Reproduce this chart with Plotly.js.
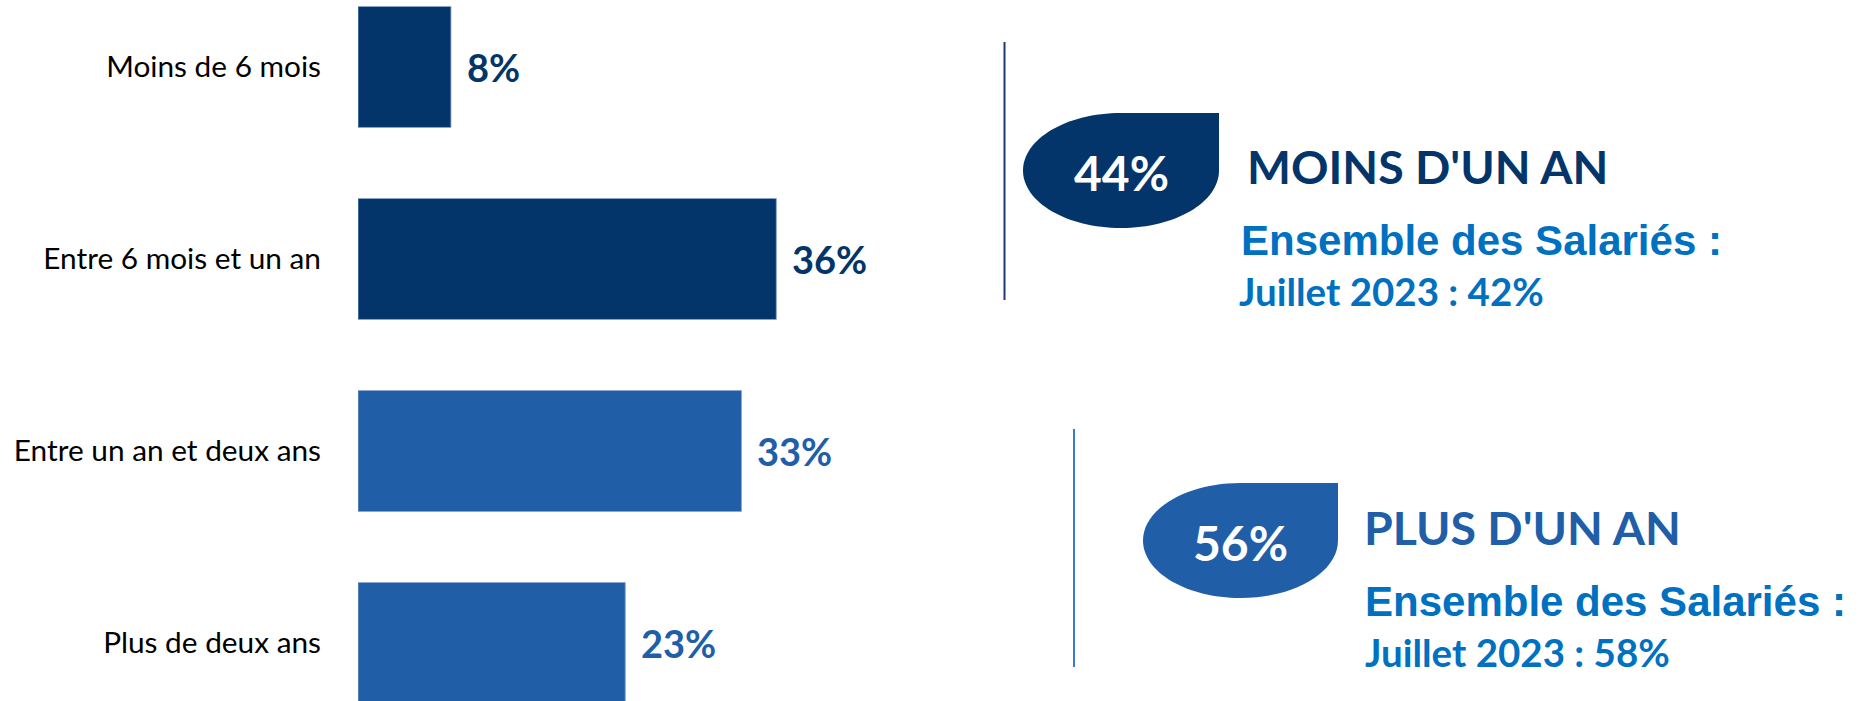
<!DOCTYPE html>
<html>
<head>
<meta charset="utf-8">
<script src="https://cdn.plot.ly/plotly-3.0.1.min.js"></script>
<style>
  html, body { margin: 0; padding: 0; background: #ffffff; }
  #chart { width: 1865px; height: 701px; }
</style>
</head>
<body>
<div id="chart"></div>
<script>
// ---- Data ----
const categories = ['Moins de 6 mois', 'Entre 6 mois et un an', 'Entre un an et deux ans', 'Plus de deux ans'];
const values = [8, 36, 33, 23];
const groupLabels = ["MOINS D'UN AN", "PLUS D'UN AN"];
const groupValues = [44, 56];
const refLabel = 'Ensemble des Salariés :';
const refPeriod = 'Juillet 2023';
const refValues = [42, 58];

// ---- Styles ----
const DARK = '#03356A';
const LIGHT = '#215EA8';
const REFBLUE = '#0070C0';
const barColors = [DARK, DARK, LIGHT, LIGHT];
const groupColors = [DARK, LIGHT];
const FONT = 'Lato, "Open Sans", sans-serif';

// ---- Layout geometry (pixels) ----
const W = 1865, H = 701;
const L = 358;                // plot area left edge
const PW = W - L;             // plot area width
const PX_PER_UNIT = 11.62;    // pixels per percentage point
function px(x) { return (x - L) / PW; }
function py(y) { return 1 - y / H; }

function dropPath(cx, cy, rx, ry) {
  const k = 0.5523;
  const P = (x, y) => px(x) + ',' + py(y);
  return 'M' + P(cx + rx, cy - ry) +
    ' L' + P(cx + rx, cy) +
    ' C' + P(cx + rx, cy + k * ry) + ' ' + P(cx + k * rx, cy + ry) + ' ' + P(cx, cy + ry) +
    ' C' + P(cx - k * rx, cy + ry) + ' ' + P(cx - rx, cy + k * ry) + ' ' + P(cx - rx, cy) +
    ' C' + P(cx - rx, cy - k * ry) + ' ' + P(cx - k * rx, cy - ry) + ' ' + P(cx, cy - ry) +
    ' Z';
}

const panels = [
  { line: { x: 1004.5, y0: 42, y1: 300, color: '#1F3A78' },
    drop: { cx: 1121, cy: 170.5, rx: 98, ry: 57.5 },
    title: { x: 1245, y: 166 }, ref: { x: 1239, y: 240 }, period: { x: 1237, y: 291 } },
  { line: { x: 1074, y0: 429, y1: 667, color: '#3A7BD8' },
    drop: { cx: 1240.5, cy: 540.5, rx: 97.5, ry: 57.5 },
    title: { x: 1362, y: 527 }, ref: { x: 1363, y: 601 }, period: { x: 1363, y: 652 } }
];

const shapes = [];
const annotations = [];

// value labels next to bars
categories.forEach((c, i) => {
  annotations.push({
    x: values[i], y: c, xref: 'x', yref: 'y',
    text: '<b>' + values[i] + '%</b>',
    showarrow: false, xanchor: 'left', yanchor: 'middle', xshift: 14, yshift: 0,
    font: { family: FONT, size: 38, color: barColors[i] }
  });
});

panels.forEach((p, i) => {
  shapes.push({
    type: 'line', xref: 'paper', yref: 'paper',
    x0: px(p.line.x), x1: px(p.line.x), y0: py(p.line.y0), y1: py(p.line.y1),
    line: { color: p.line.color, width: 2 }
  });
  shapes.push({
    type: 'path', xref: 'paper', yref: 'paper',
    path: dropPath(p.drop.cx, p.drop.cy, p.drop.rx, p.drop.ry),
    fillcolor: groupColors[i], line: { width: 0 }
  });
  annotations.push({
    x: px(p.drop.cx), y: py(p.drop.cy + 2), xref: 'paper', yref: 'paper',
    text: '<b>' + groupValues[i] + '%</b>', showarrow: false,
    xanchor: 'center', yanchor: 'middle',
    font: { family: FONT, size: 48, color: '#ffffff' }
  });
  annotations.push({
    x: px(p.title.x), y: py(p.title.y), xref: 'paper', yref: 'paper',
    text: '<b>' + groupLabels[i] + '</b>', showarrow: false,
    xanchor: 'left', yanchor: 'middle',
    font: { family: FONT, size: 46.5, color: groupColors[i] }
  });
  annotations.push({
    x: px(p.ref.x), y: py(p.ref.y), xref: 'paper', yref: 'paper',
    text: '<b>' + refLabel + '</b>', showarrow: false,
    xanchor: 'left', yanchor: 'middle',
    font: { family: '"Liberation Sans", Arial, sans-serif', size: 42, color: REFBLUE }
  });
  annotations.push({
    x: px(p.period.x), y: py(p.period.y), xref: 'paper', yref: 'paper',
    text: '<b>' + refPeriod + ' : ' + refValues[i] + '%</b>', showarrow: false,
    xanchor: 'left', yanchor: 'middle',
    font: { family: FONT, size: 38.5, color: REFBLUE }
  });
});

const trace = {
  type: 'bar', orientation: 'h',
  x: values, y: categories,
  marker: { color: barColors, line: { color: 'rgba(140,165,205,0.9)', width: 1 } },
  hoverinfo: 'none', cliponaxis: true
};

const pitch = 192, firstCenter = 67;
const layout = {
  width: W, height: H,
  margin: { l: L, r: 0, t: 0, b: 0, pad: 0 },
  paper_bgcolor: '#ffffff', plot_bgcolor: '#ffffff',
  showlegend: false,
  bargap: 0.37,
  xaxis: { range: [0, PW / PX_PER_UNIT], visible: false, fixedrange: true },
  yaxis: {
    type: 'category', categoryorder: 'array', categoryarray: categories,
    range: [(H - firstCenter) / pitch, -firstCenter / pitch],
    showgrid: false, zeroline: false, showline: false, ticks: '',
    ticklabelstandoff: 36,
    tickfont: { family: FONT, size: 29.8, color: '#000000' }
  },
  shapes: shapes,
  annotations: annotations
};

Plotly.newPlot('chart', [trace], layout, { staticPlot: true, displayModeBar: false });
</script>
</body>
</html>
